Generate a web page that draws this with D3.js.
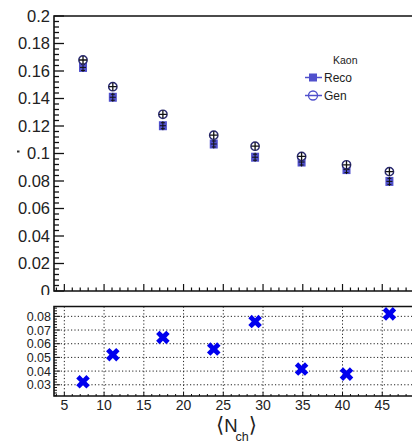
<!DOCTYPE html>
<html>
<head>
<meta charset="utf-8">
<script src="https://cdn.jsdelivr.net/npm/d3@7"></script>
<style>
  html, body { margin: 0; padding: 0; background: #fff; }
  svg { display: block; }
  text { font-family: "Liberation Sans", Arial, Helvetica, sans-serif; fill: #222; }
</style>
</head>
<body>
<svg id="chart" width="412" height="445"></svg>
<script>
// <N_ch> bin centres
const nch = [7.35, 11.1, 17.4, 23.8, 29.0, 34.85, 40.5, 45.9];
// Kaon yields, generator level and reconstructed
const genValues  = [0.168, 0.1486, 0.1285, 0.1133, 0.1053, 0.0979, 0.0918, 0.0868];
const recoValues = [0.1626, 0.1409, 0.1202, 0.1069, 0.0973, 0.0938, 0.0883, 0.0797];
// relative difference (Gen - Reco) / Gen
const ratioValues = [0.0322, 0.052, 0.0646, 0.0561, 0.0762, 0.0415, 0.0378, 0.0818];
// tick labels
const topYTicks = [0, 0.02, 0.04, 0.06, 0.08, 0.1, 0.12, 0.14, 0.16, 0.18, 0.2];
const botYTicks = [0.03, 0.04, 0.05, 0.06, 0.07, 0.08];
const xTicks = [5, 10, 15, 20, 25, 30, 35, 40, 45];
const legendTitle = "Kaon";
const legendLabels = ["Reco", "Gen"];

const svg = d3.select("#chart");
const recoColor = "#5050cc";
const frameColor = "#111";

const x = d3.scaleLinear().domain([3.7, 50]).range([54, 422]);
const yTop = d3.scaleLinear().domain([0, 0.2]).range([291, 16]);
const yBot = d3.scaleLinear().domain([0.0218, 0.0872]).range([396, 306.5]);

// ---------- upper pad ----------
const upper = svg.append("g");
const xL = x.range()[0], xR = x.range()[1];
const yT0 = yTop.range()[0], yT1 = yTop.range()[1];

// y ticks (inward), minor every 0.004
const yMinor = d3.range(0, 0.2001, 0.004);
upper.selectAll("line.ytm").data(yMinor).join("line")
  .attr("x1", xL).attr("x2", (d, i) => xL + (i % 5 === 0 ? 10 : 5))
  .attr("y1", d => yTop(d)).attr("y2", d => yTop(d))
  .attr("stroke", frameColor).attr("stroke-width", 1.3);
upper.selectAll("text.ytl").data(topYTicks).join("text")
  .attr("x", xL - 4).attr("y", d => yTop(d))
  .attr("dy", "0.36em").attr("text-anchor", "end")
  .attr("font-size", 16.5)
  .text(d => d3.format("~g")(d));
// small stray dash next to the 0.1 label
upper.append("rect").attr("x", 17).attr("y", yTop(0.1) - 3).attr("width", 2.5).attr("height", 2).attr("fill", "#333");

// x ticks on the upper pad (inward), minor every 1
const xMinor = d3.range(4, 50, 1);
upper.selectAll("line.xtm").data(xMinor).join("line")
  .attr("x1", d => x(d)).attr("x2", d => x(d))
  .attr("y1", yT0).attr("y2", d => yT0 - (d % 5 === 0 ? 7 : 3.5))
  .attr("stroke", frameColor).attr("stroke-width", 1.2);

// frame
upper.append("path")
  .attr("d", `M${xR},${yT1}H${xL}V${yT0}H${xR}`)
  .attr("fill", "none").attr("stroke", frameColor).attr("stroke-width", 1.6);

// Reco markers: filled square with error bar
const reco = upper.selectAll("g.reco").data(nch).join("g")
  .attr("transform", (d, i) => `translate(${x(d)},${yTop(recoValues[i])})`);
reco.append("rect").attr("x", -4).attr("y", -4.5).attr("width", 8).attr("height", 9)
  .attr("fill", recoColor);
reco.append("path").attr("d", "M-3,0H3M0,-4.5V4.5M-2,-3H2M-2,3H2")
  .attr("stroke", "#111").attr("stroke-width", 1).attr("fill", "none");

// Gen markers: open circle with error cross
const gen = upper.selectAll("g.gen").data(nch).join("g")
  .attr("transform", (d, i) => `translate(${x(d)},${yTop(genValues[i])})`);
gen.append("circle").attr("r", 4.2).attr("fill", "#fff")
  .attr("stroke", "#2a2a70").attr("stroke-width", 1.4);
gen.append("path").attr("d", "M-4,0H4M0,-4V4")
  .attr("stroke", "#111").attr("stroke-width", 1.3);

// legend
const lg = upper.append("g");
lg.append("text").attr("x", 333).attr("y", 64).attr("font-size", 10.5).text(legendTitle);
const legY = [77.5, 95.5];
lg.selectAll("line.lgl").data(legendLabels).join("line")
  .attr("x1", 305).attr("x2", 322)
  .attr("y1", (d, i) => legY[i]).attr("y2", (d, i) => legY[i])
  .attr("stroke", recoColor).attr("stroke-width", 1.5);
lg.append("rect").attr("x", 309).attr("y", legY[0] - 4).attr("width", 8).attr("height", 8).attr("fill", recoColor);
lg.append("circle").attr("cx", 313).attr("cy", legY[1]).attr("r", 4.5)
  .attr("fill", "none").attr("stroke", recoColor).attr("stroke-width", 1.3);
lg.selectAll("text.lgt").data(legendLabels).join("text")
  .attr("x", 324).attr("y", (d, i) => legY[i]).attr("dy", "0.36em")
  .attr("font-size", 12).text(d => d);

// ---------- lower pad ----------
const lower = svg.append("g");
lower.append("rect").attr("x", 0).attr("y", 295).attr("width", 412).attr("height", 150).attr("fill", "#fff");
const yB0 = yBot.range()[0], yB1 = yBot.range()[1];

// dotted grid
lower.selectAll("line.gy").data(botYTicks).join("line")
  .attr("x1", xL).attr("x2", xR).attr("y1", d => yBot(d)).attr("y2", d => yBot(d))
  .attr("stroke", "#222").attr("stroke-width", 1).attr("stroke-dasharray", "1.2,2.2");
lower.selectAll("line.gx").data(xTicks).join("line")
  .attr("x1", d => x(d)).attr("x2", d => x(d)).attr("y1", yB1).attr("y2", yB0)
  .attr("stroke", "#222").attr("stroke-width", 1).attr("stroke-dasharray", "1.2,2.2");

// y ticks, minor every 0.002
const yBMinor = d3.range(0.022, 0.0871, 0.002);
lower.selectAll("line.ybt").data(yBMinor).join("line")
  .attr("x1", xL).attr("x2", d => xL + (Math.abs(d * 100 - Math.round(d * 100)) < 1e-6 ? 6 : 3))
  .attr("y1", d => yBot(d)).attr("y2", d => yBot(d))
  .attr("stroke", frameColor).attr("stroke-width", 1);
lower.selectAll("text.ybl").data(botYTicks).join("text")
  .attr("x", xL - 3).attr("y", d => yBot(d)).attr("dy", "0.36em")
  .attr("text-anchor", "end").attr("font-size", 12.5)
  .text(d => d3.format(".2f")(d));

// x ticks and labels
lower.selectAll("line.xbt").data(xMinor).join("line")
  .attr("x1", d => x(d)).attr("x2", d => x(d))
  .attr("y1", yB0).attr("y2", d => yB0 - (d % 5 === 0 ? 4 : 2))
  .attr("stroke", frameColor).attr("stroke-width", 1);
lower.selectAll("text.xbl").data(xTicks).join("text")
  .attr("x", d => x(d)).attr("y", 405).attr("dy", "0.36em")
  .attr("text-anchor", "middle").attr("font-size", 14)
  .text(d => d);

// frame
lower.append("path")
  .attr("d", `M${xR},${yB1}H${xL}V${yB0}H${xR}`)
  .attr("fill", "none").attr("stroke", frameColor).attr("stroke-width", 1.6);

// ratio markers: thick blue X
const crossPath = d3.symbol().type(d3.symbolCross).size(115)();
lower.selectAll("path.rx").data(nch).join("path")
  .attr("d", crossPath)
  .attr("transform", (d, i) => `translate(${x(d)},${yBot(ratioValues[i])}) rotate(45)`)
  .attr("fill", "#0000ee");

// axis title <N_ch>
const title = lower.append("text").attr("x", 216).attr("y", 432).attr("fill", "#222");
title.append("tspan").attr("font-family", "DejaVu Sans").attr("font-size", 21).text("\u27E8");
title.append("tspan").attr("font-size", 18.5).text("N");
title.append("tspan").attr("font-size", 12.5).attr("dy", 9).attr("dx", -2).text("ch");
title.append("tspan").attr("font-family", "DejaVu Sans").attr("font-size", 21).attr("dy", -9).text("\u27E9");
</script>
</body>
</html>
